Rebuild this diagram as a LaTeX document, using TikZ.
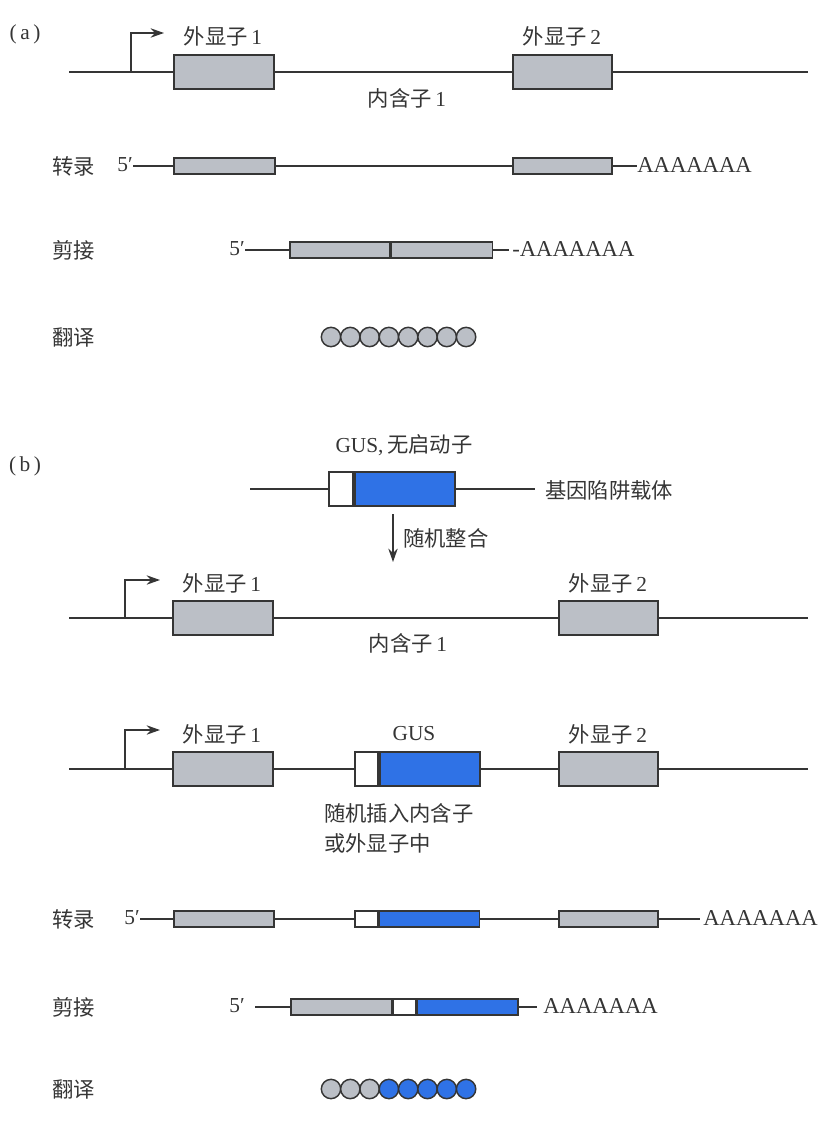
\documentclass[tikz,border=0pt]{standalone}
\usepackage{fontspec}
\setmainfont{Liberation Serif}
\newfontfamily\cjk{Noto Sans CJK SC}
\usetikzlibrary{arrows.meta}
\definecolor{ink}{HTML}{353535}
\definecolor{exg}{HTML}{BBBFC6}
\definecolor{gusb}{HTML}{2F72E6}
\begin{document}
\begin{tikzpicture}[x=0.75pt,y=-0.75pt,
  txt/.style={font=\fontsize{16}{19}\selectfont, inner sep=0, text=ink},
  polya/.style={font=\fontsize{17}{19}\selectfont, inner sep=0, text=ink},
  dna/.style={draw=ink, line width=1.6pt},
  rna/.style={draw=ink, line width=1.2pt},
  prom/.style={draw=ink, line width=1.3pt, -{Stealth[length=10pt,width=7pt]}},
  gbox/.style={draw=ink, line width=1.6pt, fill=exg, inner sep=0, minimum height=25.5pt, anchor=west},
  wbox/.style={gbox, fill=white},
  bbox/.style={gbox, fill=gusb},
  gm/.style={draw=ink, line width=1.3pt, fill=exg, inner sep=0, minimum height=12pt, anchor=west},
  wm/.style={gm, fill=white},
  bm/.style={gm, fill=gusb},
  bead/.style={circle, draw=ink, line width=1.1pt, fill=exg, minimum size=14.5pt, inner sep=0},
  bbead/.style={bead, fill=gusb}
]
\useasboundingbox (0,0) rectangle (825,1123);

% ================= (a) =================
\node[txt] (la) at (25,34) {(\,a\,)};
% genomic
\coordinate (aS) at (69,72);
\coordinate (aE) at (808,72);
\node[gbox, minimum width=75pt] (ae1) at (173,72) {};
\node[gbox, minimum width=74.25pt] (ae2) at (512,72) {};
\draw[dna] (aS) -- (ae1.west) (ae1.east) -- (ae2.west) (ae2.east) -- (aE);
\coordinate (apB) at (131,72);
\coordinate (apT) at (164,33);
\draw[prom] (apB) |- (apT);
\node[txt] (ae1l) at (223,36) {{\cjk 外显子}\,1};
\node[txt] (ae2l) at (562,36) {{\cjk 外显子}\,2};
\node[txt] (ail) at (407,98) {{\cjk 内含子}\,1};

% transcription
\node[txt, anchor=west] (atl) at (52,166) {\cjk 转录};
\node[txt, anchor=east] (at5) at (133,165) {5′};
\node[gm, minimum width=75.75pt] (at1) at (173,166) {};
\node[gm, minimum width=74.25pt] (at2) at (512,166) {};
\node[polya, anchor=west] (atA) at (637,165) {AAAAAAA};
\draw[rna] (at5.east |- at1.west) -- (at1.west) (at1.east) -- (at2.west) (at2.east) -- (atA.west |- at2.east);

% splicing
\node[txt, anchor=west] (asl) at (52,250) {\cjk 剪接};
\node[txt, anchor=east] (as5) at (245,249) {5′};
\node[gm, minimum width=75pt] (as1) at (289,250) {};
\node[gm, minimum width=75.75pt, anchor=west] (as2) at (as1.east) {};
\coordinate (asE) at (509,250);
\node[polya, anchor=west] (asA) at (512,249) {-AAAAAAA};
\draw[rna] (as5.east |- as1.west) -- (as1.west) (as2.east) -- (asE);

% translation
\node[txt, anchor=west] (atrl) at (52,337) {\cjk 翻译};
\foreach \i in {0,...,7} \node[bead] (ab\i) at ({331+\i*19.3},337) {};

% ================= (b) =================
\node[txt] (lb) at (25,466) {(\,b\,)};
% vector
\node[txt] (vl) at (404,445) {GUS,\,{\cjk 无启动子}};
\coordinate (vS) at (250,489);
\coordinate (vE) at (535,489);
\node[wbox, minimum width=18pt] (vw) at (328,489) {};
\node[bbox, minimum width=75pt, anchor=west] (vb) at (vw.east) {};
\draw[dna] (vS) -- (vw.west) (vb.east) -- (vE);
\node[txt, anchor=west] (vtl) at (545,490) {\cjk 基因陷阱载体};
\coordinate (arS) at (393,514);
\coordinate (arE) at (393,562);
\draw[prom] (arS) -- (arE);
\node[txt, anchor=west] (arl) at (403,538) {\cjk 随机整合};

% genomic 1
\coordinate (b1S) at (69,618);
\coordinate (b1E) at (808,618);
\node[gbox, minimum width=75pt] (b1e1) at (172,618) {};
\node[gbox, minimum width=74.25pt] (b1e2) at (558,618) {};
\draw[dna] (b1S) -- (b1e1.west) (b1e1.east) -- (b1e2.west) (b1e2.east) -- (b1E);
\coordinate (b1pB) at (125,618);
\coordinate (b1pT) at (160,580);
\draw[prom] (b1pB) |- (b1pT);
\node[txt] (b1l1) at (222,583) {{\cjk 外显子}\,1};
\node[txt] (b1l2) at (608,583) {{\cjk 外显子}\,2};
\node[txt] (b1il) at (408,643) {{\cjk 内含子}\,1};

% genomic 2 with insertion
\coordinate (b2S) at (69,769);
\coordinate (b2E) at (808,769);
\node[gbox, minimum width=75pt] (b2e1) at (172,769) {};
\node[wbox, minimum width=17.25pt] (b2w) at (354,769) {};
\node[bbox, minimum width=75pt, anchor=west] (b2b) at (b2w.east) {};
\node[gbox, minimum width=74.25pt] (b2e2) at (558,769) {};
\draw[dna] (b2S) -- (b2e1.west) (b2e1.east) -- (b2w.west) (b2b.east) -- (b2e2.west) (b2e2.east) -- (b2E);
\coordinate (b2pB) at (125,769);
\coordinate (b2pT) at (160,730);
\draw[prom] (b2pB) |- (b2pT);
\node[txt] (b2l1) at (222,734) {{\cjk 外显子}\,1};
\node[txt] (b2lg) at (414,734) {GUS};
\node[txt] (b2l2) at (608,734) {{\cjk 外显子}\,2};
\node[txt, anchor=west] (b2n1) at (324,813) {\cjk 随机插入内含子};
\node[txt, anchor=west] (b2n2) at (324,843) {\cjk 或外显子中};

% transcription
\node[txt, anchor=west] (btl) at (52,919) {\cjk 转录};
\node[txt, anchor=east] (bt5) at (140,918) {5′};
\node[gm, minimum width=75pt] (bt1) at (173,919) {};
\node[wm, minimum width=17.25pt] (btw) at (354,919) {};
\node[bm, minimum width=75pt, anchor=west] (btb) at (btw.east) {};
\node[gm, minimum width=74.25pt] (bt2) at (558,919) {};
\coordinate (btE) at (700,919);
\node[polya, anchor=west] (btA) at (703,918) {AAAAAAA};
\draw[rna] (bt5.east |- bt1.west) -- (bt1.west) (bt1.east) -- (btw.west) (btb.east) -- (bt2.west) (bt2.east) -- (btE);

% splicing
\node[txt, anchor=west] (bsl) at (52,1007) {\cjk 剪接};
\node[txt, anchor=east] (bs5) at (245,1006) {5′};
\coordinate (bsS) at (255,1007);
\node[gm, minimum width=75.75pt] (bs1) at (290,1007) {};
\node[wm, minimum width=16.5pt, anchor=west] (bsw) at (bs1.east) {};
\node[bm, minimum width=75.75pt, anchor=west] (bsb) at (bsw.east) {};
\coordinate (bsE) at (537,1007);
\node[polya, anchor=west] (bsA) at (543,1006) {AAAAAAA};
\draw[rna] (bsS) -- (bs1.west) (bsb.east) -- (bsE);

% translation
\node[txt, anchor=west] (btrl) at (52,1089) {\cjk 翻译};
\foreach \i in {0,1,2} \node[bead] (bb\i) at ({331+\i*19.3},1089) {};
\foreach \i in {3,...,7} \node[bbead] (bb\i) at ({331+\i*19.3},1089) {};
\end{tikzpicture}
\end{document}
